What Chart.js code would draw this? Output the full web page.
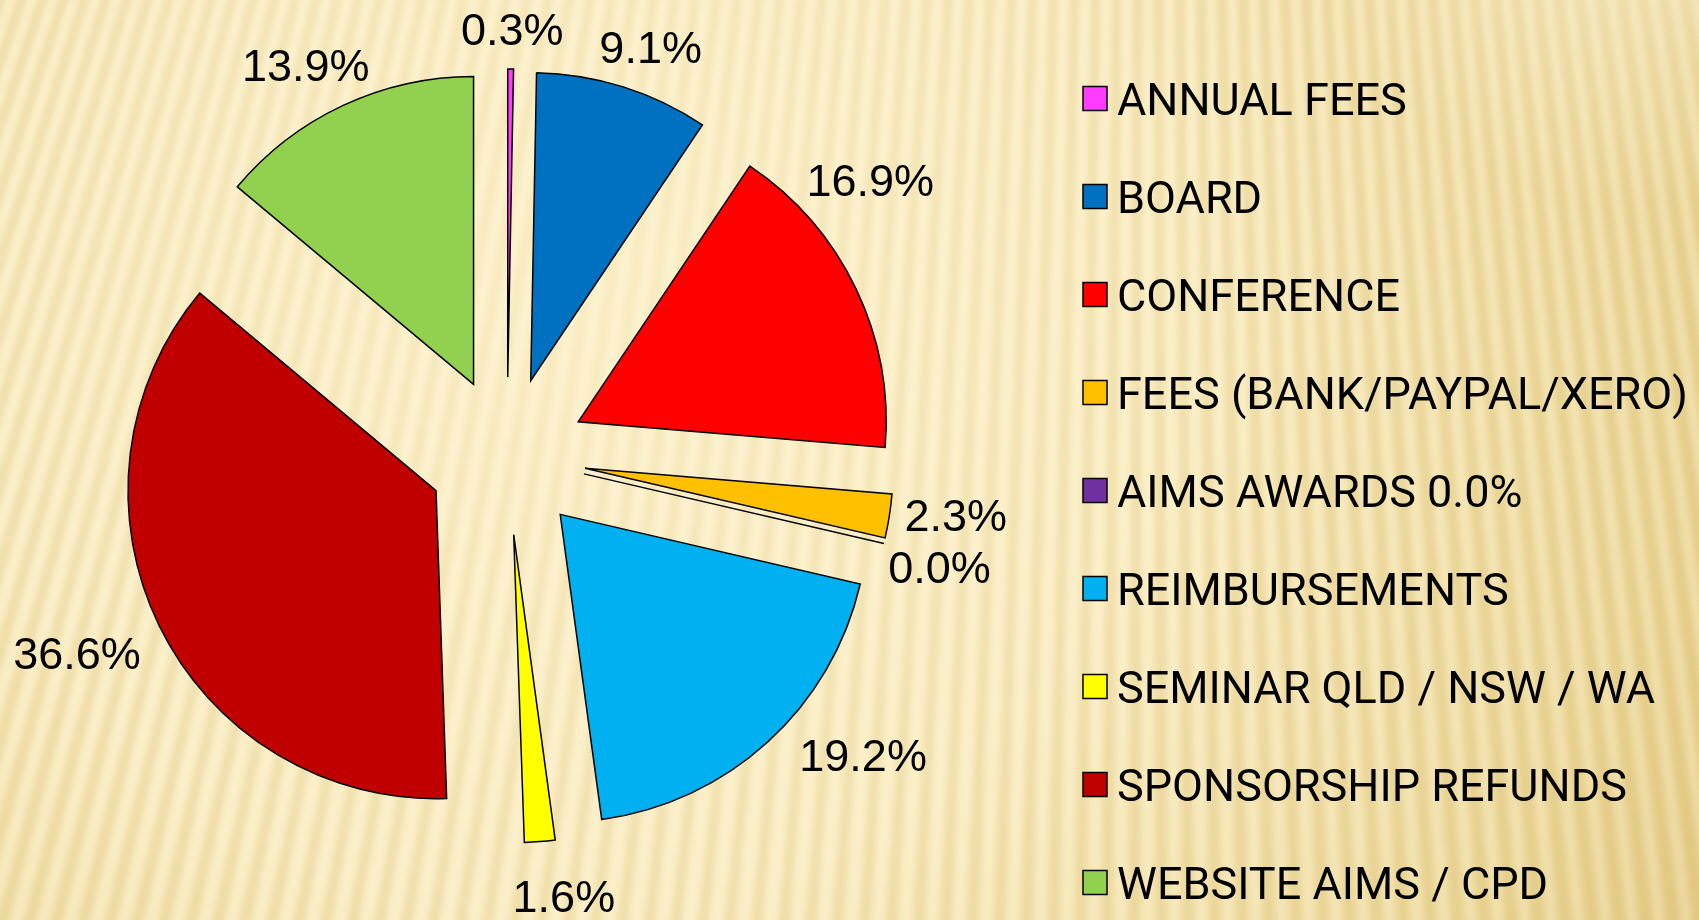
<!DOCTYPE html>
<html>
<head>
<meta charset="utf-8">
<script src="https://cdn.jsdelivr.net/npm/chart.js@4.4.0/dist/chart.umd.min.js"></script>
<style>
  html, body { margin: 0; padding: 0; background: #fbeec4; overflow: hidden; }
  #wrap { width: 1699px; height: 920px; }
</style>
</head>
<body>
<div id="wrap"><canvas id="myChart" width="1699" height="920"></canvas></div>
<script>
const categories = ['ANNUAL FEES', 'BOARD', 'CONFERENCE', 'FEES (BANK/PAYPAL/XERO)', 'AIMS AWARDS 0.0%',
  'REIMBURSEMENTS', 'SEMINAR QLD / NSW / WA', 'SPONSORSHIP REFUNDS', 'WEBSITE AIMS / CPD']
const shares = [0.3, 9.1, 16.9, 2.3, 0.0, 19.2, 1.6, 36.6, 13.9]
const sliceColors = ['#ff3cff', '#0070c0', '#ff0000', '#ffc000', '#7030a0', '#00b0f0', '#ffff00', '#c00000', '#92d050']

// how far every slice is pulled out, and where the % labels are nudged to
const EXPLODE = 79
const labelNudge = [[1, -4], [6, -6], [-61, -93], [-4, -7], [-14, 15], [39, -14], [18, 19], [-7, 11], [-2, -8]]

function paintBackground(ctx, w, h) {
  const base = ctx.createRadialGradient(560, 300, 60, 560, 300, 1450)
  base.addColorStop(0, '#fdf2cd')
  base.addColorStop(0.4, '#faedc2')
  base.addColorStop(0.75, '#eedb9f')
  base.addColorStop(1, '#e2c77f')
  ctx.fillStyle = base
  ctx.fillRect(0, 0, w, h)

  // soft fan of stripes, converging far above the page
  const px = 1150, py = -3300
  ctx.save()
  ctx.filter = 'blur(3px)'
  for (let x = -400; x < w + 300; x += 24) {
    const t0 = (-50 - py) / (460 - py), t1 = (h + 50 - py) / (460 - py)
    ctx.beginPath()
    ctx.moveTo(px + (x - px) * t0, -50)
    ctx.lineTo(px + (x - px) * t1, h + 50)
    ctx.strokeStyle = 'rgba(196, 156, 60, 0.20)'
    ctx.lineWidth = 9
    ctx.stroke()
    ctx.beginPath()
    ctx.moveTo(px + (x + 12 - px) * t0, -50)
    ctx.lineTo(px + (x + 12 - px) * t1, h + 50)
    ctx.strokeStyle = 'rgba(255, 250, 228, 0.30)'
    ctx.lineWidth = 6
    ctx.stroke()
  }
  ctx.restore()

  // stripes fade out in the light middle of the slide
  const haze = ctx.createRadialGradient(600, 280, 40, 600, 280, 700)
  haze.addColorStop(0, 'rgba(253, 242, 205, 0.55)')
  haze.addColorStop(1, 'rgba(253, 242, 205, 0)')
  ctx.fillStyle = haze
  ctx.fillRect(0, 0, w, h)

  const glow = ctx.createRadialGradient(1640, -120, 40, 1640, -120, 330)
  glow.addColorStop(0, 'rgba(255, 250, 230, 0.45)')
  glow.addColorStop(1, 'rgba(255, 250, 230, 0)')
  ctx.fillStyle = glow
  ctx.fillRect(0, 0, w, h)
}

const background = {
  id: 'background',
  beforeDraw(chart) {
    const {ctx, width, height} = chart
    ctx.save()
    paintBackground(ctx, width, height)
    ctx.restore()
  }
}

const exploded = {
  id: 'exploded',
  beforeDatasetDraw(chart, args) {
    const ctx = chart.ctx
    args.meta.data.forEach(arc => {
      const mid = (arc.startAngle + arc.endAngle) / 2
      ctx.save()
      ctx.translate(Math.cos(mid) * EXPLODE, Math.sin(mid) * EXPLODE)
      if (arc.circumference > 0) {
        arc.draw(ctx)
      } else {
        // empty slice: only its edge shows
        ctx.strokeStyle = '#000'
        ctx.lineWidth = 1.5
        ctx.beginPath()
        ctx.moveTo(arc.x, arc.y)
        ctx.lineTo(arc.x + Math.cos(mid) * arc.outerRadius, arc.y + Math.sin(mid) * arc.outerRadius)
        ctx.stroke()
      }
      ctx.restore()
    })
    return false
  }
}

const outsideLabels = {
  id: 'outsideLabels',
  afterDatasetsDraw(chart) {
    const ctx = chart.ctx
    const arcs = chart.getDatasetMeta(0).data
    ctx.save()
    ctx.font = '45px "Liberation Sans", Arial, sans-serif'
    ctx.fillStyle = '#000'
    ctx.textAlign = 'center'
    ctx.textBaseline = 'alphabetic'
    arcs.forEach((arc, i) => {
      const text = shares[i].toFixed(1) + '%'
      const mid = (arc.startAngle + arc.endAngle) / 2
      const dx = Math.cos(mid), dy = Math.sin(mid)
      const w = ctx.measureText(text).width
      const d = arc.outerRadius + EXPLODE + 20
      const cx = arc.x + dx * d + dx * w / 2 + labelNudge[i][0]
      const cy = arc.y + dy * d + dy * 16 + labelNudge[i][1]
      ctx.fillText(text, cx, cy + 16)
    })
    ctx.restore()
  }
}

const sideLegend = {
  id: 'sideLegend',
  afterDraw(chart) {
    const ctx = chart.ctx
    const colors = chart.data.datasets[0].backgroundColor
    ctx.save()
    ctx.font = '45px Roboto, "Liberation Sans", sans-serif'
    ctx.textBaseline = 'alphabetic'
    ctx.lineWidth = 1.5
    ctx.strokeStyle = '#000'
    chart.data.labels.forEach((label, i) => {
      const cy = 98.5 + i * 98
      ctx.fillStyle = colors[i]
      ctx.fillRect(1083, cy - 12, 24, 24)
      ctx.strokeRect(1083, cy - 12, 24, 24)
      ctx.fillStyle = '#000'
      ctx.fillText(label, 1117, cy + 16)
    })
    ctx.restore()
  }
}

const data = {
  labels: categories,
  datasets: [{
    data: shares,
    backgroundColor: sliceColors,
    borderColor: '#000',
    borderWidth: 1.5,
    borderJoinStyle: 'miter'
  }]
}

const config = {
  type: 'pie',
  data: data,
  options: {
    responsive: false,
    animation: false,
    devicePixelRatio: 1,
    radius: 308,
    layout: { padding: { left: 0, top: 0, right: 685, bottom: 8 } },
    plugins: {
      legend: { display: false },
      tooltip: { enabled: false }
    }
  },
  plugins: [background, exploded, outsideLabels, sideLegend]
}

const myChart = new Chart(document.getElementById('myChart'), config)
</script>
</body>
</html>
